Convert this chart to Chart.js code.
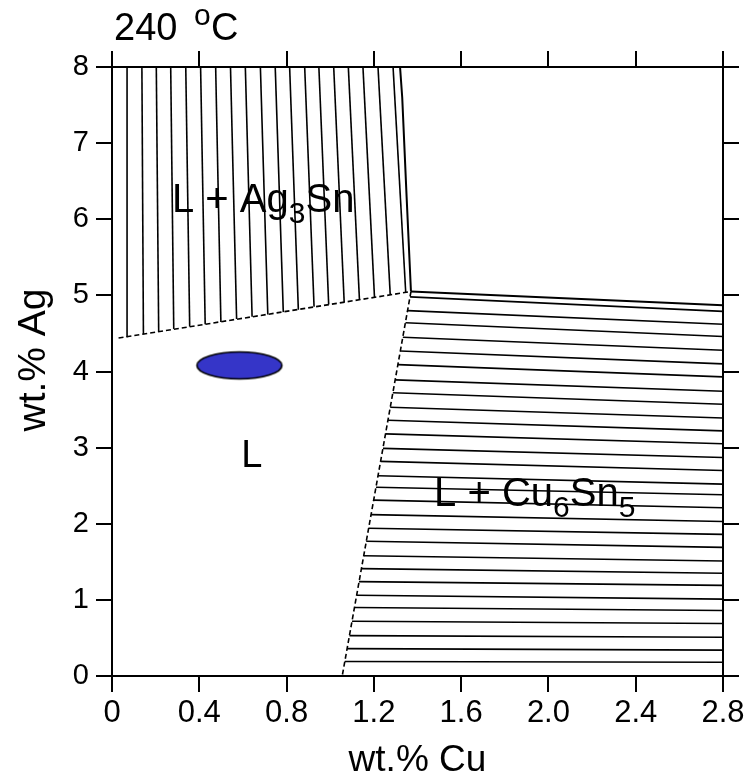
<!DOCTYPE html>
<html><head><meta charset="utf-8">
<script src="https://cdn.jsdelivr.net/npm/chart.js@4.4.1/dist/chart.umd.min.js"></script>
<style>html,body{margin:0;padding:0;background:#fff;}#wrap{width:753px;height:777px;}</style>
</head><body><div id="wrap"><canvas id="c" width="753" height="777"></canvas></div>
<script>
// ---- axis ticks ----
const xTickValues = [0, 0.4, 0.8, 1.2, 1.6, 2.0, 2.4, 2.8];
const xTickLabels = ['0', '0.4', '0.8', '1.2', '1.6', '2.0', '2.4', '2.8'];
const yTickValues = [0, 1, 2, 3, 4, 5, 6, 7, 8];
const yTickLabels = ['0', '1', '2', '3', '4', '5', '6', '7', '8'];

// ---- L + Ag3Sn tie lines (wt.% Cu at 8 wt.% Ag, and liquid end) ----
const agTieTopCu    = [0.069,0.137,0.203,0.269,0.338,0.406,0.475,0.543,0.611,0.680,0.748,0.814,0.883,0.948,1.016,1.083,1.150,1.219,1.288];
const agTieBottomCu = [0.073,0.144,0.214,0.283,0.356,0.427,0.499,0.571,0.642,0.714,0.785,0.854,0.926,0.993,1.064,1.134,1.203,1.275,1.346];
const agTieBottomAg = [4.46,4.49,4.52,4.56,4.59,4.62,4.65,4.69,4.72,4.75,4.78,4.81,4.85,4.88,4.91,4.94,4.97,5.01,5.04];

// ---- L + Cu6Sn5 tie lines (liquid end, and wt.% Ag at 2.8 wt.% Cu) ----
const cuTieLeftAg  = [4.98,4.80,4.64,4.45,4.27,4.09,3.89,3.72,3.53,3.36,3.18,2.99,2.82,2.63,2.48,2.31,2.12,1.94,1.77,1.58,1.41,1.24,1.06,0.90,0.72,0.53,0.36,0.19];
const cuTieLeftCu  = [1.366,1.355,1.345,1.333,1.321,1.310,1.298,1.287,1.275,1.265,1.253,1.242,1.231,1.219,1.210,1.199,1.187,1.176,1.165,1.154,1.143,1.132,1.121,1.111,1.100,1.088,1.077,1.067];
const cuTieRightAg = [4.79,4.62,4.46,4.28,4.10,3.93,3.74,3.57,3.39,3.22,3.05,2.87,2.70,2.52,2.38,2.21,2.03,1.86,1.69,1.51,1.35,1.19,1.01,0.86,0.69,0.51,0.34,0.18];

// ---- phase boundaries ----
const liqAg3SnCu = [0.03, 1.37];          const liqAg3SnAg = [4.44, 5.05];
const ag3SnEdgeCu = [1.32, 1.33, 1.35, 1.37]; const ag3SnEdgeAg = [8, 7.6, 6.3, 5.05];
const liqCu6Sn5Cu = [1.37, 1.055];        const liqCu6Sn5Ag = [5.05, 0];
const cu6Sn5EdgeCu = [1.37, 2.8];         const cu6Sn5EdgeAg = [5.05, 4.87];

// ---- alloy composition marker ----
const alloyCu = [0.584];
const alloyAg = [4.08];

// ---- phase labels ----
const phaseLabels = [
  {cu: 0.275, ag: 6.10, segs: [{t:'L + Ag'}, {t:'3', sub:true}, {t:'Sn'}]},
  {cu: 1.476, ag: 2.23, segs: [{t:'L + Cu'}, {t:'6', sub:true}, {t:'Sn'}, {t:'5', sub:true}]},
  {cu: 0.592, ag: 2.75, segs: [{t:'L'}]}
];

const FONT = '"Liberation Sans", Arial, Helvetica, sans-serif';

function pts(xs, ys) { return xs.map((x, i) => ({x: x, y: ys[i]})); }
function lineDs(data, opts) {
  return Object.assign({type:'scatter', data: data, showLine: true, pointRadius: 0, borderColor: '#000',
    borderWidth: 1.6, fill: false, tension: 0}, opts || {});
}

const datasets = [];
agTieTopCu.forEach((c, i) => datasets.push(lineDs([{x: agTieBottomCu[i], y: agTieBottomAg[i]}, {x: c, y: 8}])));
cuTieLeftAg.forEach((a, i) => datasets.push(lineDs([{x: cuTieLeftCu[i], y: a}, {x: 2.8, y: cuTieRightAg[i]}])));
datasets.push(lineDs(pts(liqAg3SnCu, liqAg3SnAg), {borderDash: [5, 3], borderWidth: 1.6}));
datasets.push(lineDs(pts(liqCu6Sn5Cu, liqCu6Sn5Ag), {borderDash: [5, 3], borderWidth: 1.6}));
datasets.push(lineDs(pts(ag3SnEdgeCu, ag3SnEdgeAg), {borderWidth: 2}));
datasets.push(lineDs(pts(cu6Sn5EdgeCu, cu6Sn5EdgeAg), {borderWidth: 2}));

// ellipse marker image
const ell = document.createElement('canvas');
ell.width = 90; ell.height = 32;
(function(){
  const g = ell.getContext('2d');
  g.beginPath();
  g.ellipse(45, 16, 42.5, 13.5, 0, 0, Math.PI * 2);
  g.fillStyle = '#3535c8';
  g.fill();
  g.lineWidth = 1.6;
  g.strokeStyle = '#000';
  g.stroke();
})();
datasets.push({type:'scatter', data: pts(alloyCu, alloyAg), pointStyle: ell, pointRadius: 10, showLine: false});

function drawRich(ctx, x, y, segs, size, subSize, subDy) {
  let cx = x;
  ctx.textAlign = 'left';
  ctx.textBaseline = 'alphabetic';
  for (const s of segs) {
    ctx.font = (s.sub ? subSize : size) + 'px ' + FONT;
    ctx.fillText(s.t, cx, y + (s.sub ? subDy : 0));
    cx += ctx.measureText(s.t).width;
  }
}

const textPlugin = {
  id: 'textPlugin',
  beforeDatasetsDraw(chart) {
    const ctx = chart.ctx, xs = chart.scales.x, ys = chart.scales.y;
    ctx.save();
    ctx.fillStyle = '#000';
    phaseLabels.forEach((l, i) => {
      const size = i === 2 ? 38 : 40;
      drawRich(ctx, xs.getPixelForValue(l.cu), ys.getPixelForValue(l.ag), l.segs, size, 30, 11);
    });
    ctx.restore();
  },
  afterDraw(chart) {
    const ctx = chart.ctx, a = chart.chartArea;
    ctx.save();
    ctx.fillStyle = '#000';
    ctx.textBaseline = 'alphabetic';
    // title 240 °C
    ctx.textAlign = 'left';
    ctx.font = '38px ' + FONT; ctx.fillText('240', 114, 40);
    ctx.font = '30px ' + FONT; ctx.fillText('o', 194, 25);
    ctx.font = '38px ' + FONT; ctx.fillText('C', 211, 40);
    // x axis title
    ctx.textAlign = 'center';
    ctx.font = '37px ' + FONT;
    ctx.fillText('wt.% Cu', (a.left + a.right) / 2, 771);
    // y axis title
    ctx.translate(45, 360);
    ctx.rotate(-Math.PI / 2);
    ctx.font = '39px ' + FONT;
    ctx.fillText('wt.% Ag', 0, 0);
    ctx.restore();
  }
};

const gridOpts = {drawOnChartArea: false, drawTicks: true, tickLength: 16, color: '#000', lineWidth: 2};
const borderOpts = {display: true, color: '#000', width: 2};

new Chart(document.getElementById('c'), {
  type: 'scatter',
  data: {datasets: datasets},
  options: {
    responsive: false,
    animation: false,
    devicePixelRatio: 1,
    events: [],
    layout: {padding: 0},
    plugins: {legend: {display: false}, tooltip: {enabled: false}, title: {display: false}},
    scales: {
      x: {
        type: 'linear', position: 'bottom', min: 0, max: 2.8,
        afterBuildTicks: s => { s.ticks = xTickValues.map(v => ({value: v})); },
        ticks: {callback: (v) => xTickLabels[xTickValues.indexOf(v)], font: {family: FONT, size: 31}, color: '#000',
                padding: 3, maxRotation: 0, autoSkip: false},
        grid: gridOpts, border: borderOpts,
        afterFit: s => { s.height = 101; }
      },
      xTop: {
        type: 'linear', position: 'top', min: 0, max: 2.8,
        afterBuildTicks: s => { s.ticks = xTickValues.map(v => ({value: v})); },
        ticks: {display: false},
        grid: gridOpts, border: borderOpts,
        afterFit: s => { s.height = 67; }
      },
      y: {
        type: 'linear', position: 'left', min: 0, max: 8,
        afterBuildTicks: s => { s.ticks = yTickValues.map(v => ({value: v})); },
        ticks: {callback: (v) => yTickLabels[yTickValues.indexOf(v)], font: {family: FONT, size: 29}, color: '#000',
                padding: 7, autoSkip: false},
        grid: gridOpts, border: borderOpts,
        afterFit: s => { s.width = 112; }
      },
      yRight: {
        type: 'linear', position: 'right', min: 0, max: 8,
        afterBuildTicks: s => { s.ticks = yTickValues.map(v => ({value: v})); },
        ticks: {display: false},
        grid: gridOpts, border: borderOpts,
        afterFit: s => { s.width = 30; }
      }
    }
  },
  plugins: [textPlugin]
});
</script>
</body></html>
